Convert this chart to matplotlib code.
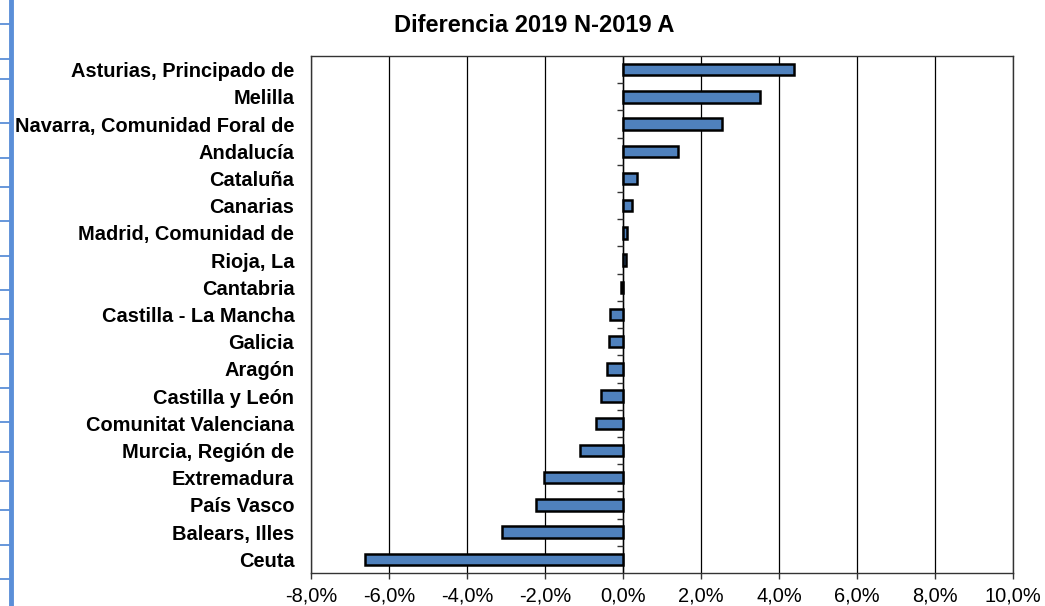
import matplotlib.pyplot as plt
from matplotlib.lines import Line2D

plt.rcParams['font.family'] = ['Liberation Sans', 'DejaVu Sans']

regiones = ['Asturias, Principado de', 'Melilla', 'Navarra, Comunidad Foral de',
            'Andalucía', 'Cataluña', 'Canarias', 'Madrid, Comunidad de', 'Rioja, La',
            'Cantabria', 'Castilla - La Mancha', 'Galicia', 'Aragón', 'Castilla y León',
            'Comunitat Valenciana', 'Murcia, Región de', 'Extremadura', 'País Vasco',
            'Balears, Illes', 'Ceuta']
diferencia = [4.38, 3.51, 2.53, 1.40, 0.35, 0.22, 0.10, 0.07, -0.06, -0.33, -0.36,
              -0.41, -0.57, -0.70, -1.10, -2.03, -2.22, -3.10, -6.62]
xticks = [-8, -6, -4, -2, 0, 2, 4, 6, 8, 10]
xlabels = ['-8,0%', '-6,0%', '-4,0%', '-2,0%', '0,0%', '2,0%', '4,0%', '6,0%', '8,0%', '10,0%']

W, H = 1045, 606
fig = plt.figure(figsize=(W / 100, H / 100), dpi=100)
ax = fig.add_axes([311 / W, 1 - 573 / H, (1013 - 311) / W, (573 - 56) / H])

y = list(range(len(regiones)))
ax.barh(y, diferencia, height=0.42, color='#4F81BD', edgecolor='black',
        linewidth=1.8, zorder=3)

ax.set_xlim(-8, 10)
ax.set_ylim(len(regiones) - 0.5, -0.5)
ax.set_xticks(xticks)
ax.set_xticklabels(xlabels, fontsize=14.4)
ax.set_yticks(y)
ax.set_yticklabels(regiones, fontsize=14.4, fontweight='bold')
ax.tick_params(axis='y', length=0, pad=12)
ax.tick_params(axis='x', length=4.5, width=1, color='#333333', pad=5)
ax.grid(axis='x', color='black', linewidth=0.9, zorder=0)
for s in ax.spines.values():
    s.set_color('#333333')
    s.set_linewidth(1)

# category axis at zero with boundary tick marks
ax.axvline(0, color='black', linewidth=1, zorder=2)
bounds = [i + 0.5 for i in range(len(regiones) - 1)]
ax.hlines(bounds, -0.15, 0, color='#333333', linewidth=1, zorder=2)

fig.text(534 / W, 1 - 32 / H, 'Diferencia 2019 N-2019 A', ha='center', va='baseline',
         fontsize=17, fontweight='bold')

# blue ruler at left edge
fig.add_artist(Line2D([10.8 / W, 10.8 / W], [0, 1], color='#5B8FD8', linewidth=3.5))
for ty in [24, 59, 79, 123, 158, 187, 221, 256, 290, 319, 354, 388, 422, 452, 481, 510, 545, 579]:
    fig.add_artist(Line2D([0, 10 / W], [1 - ty / H, 1 - ty / H], color='#5B8FD8', linewidth=1.3))

fig.savefig('out.png', dpi=100)
